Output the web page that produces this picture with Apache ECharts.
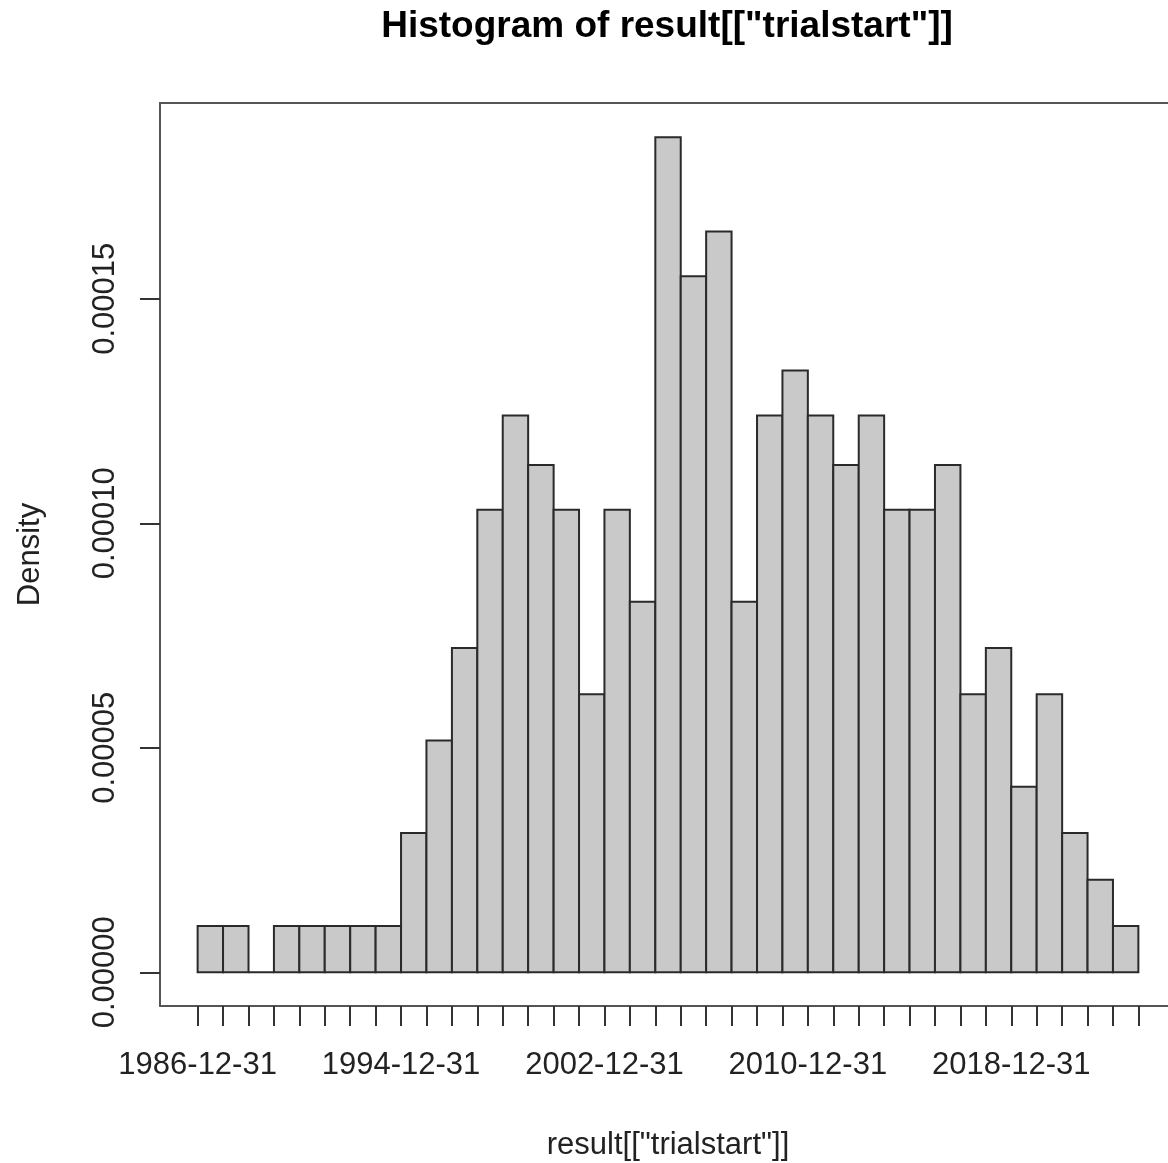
<!DOCTYPE html>
<html>
<head>
<meta charset="utf-8">
<script src="https://cdn.jsdelivr.net/npm/echarts@6/dist/echarts.min.js"></script>
<style>
html,body{margin:0;padding:0;background:#fff;}
#chart{width:1168px;height:1163px;}
</style>
</head>
<body>
<div id="chart"></div>
<script>
// ---- data ----
var binEdges = ['1986-12-31','1987-12-31','1988-12-31','1989-12-31','1990-12-31','1991-12-31','1992-12-31','1993-12-31',
  '1994-12-31','1995-12-31','1996-12-31','1997-12-31','1998-12-31','1999-12-31','2000-12-31','2001-12-31',
  '2002-12-31','2003-12-31','2004-12-31','2005-12-31','2006-12-31','2007-12-31','2008-12-31','2009-12-31',
  '2010-12-31','2011-12-31','2012-12-31','2013-12-31','2014-12-31','2015-12-31','2016-12-31','2017-12-31',
  '2018-12-31','2019-12-31','2020-12-31','2021-12-31','2022-12-31','2023-12-31'];
var densities = [0.0000103,0.0000103,0,0.0000103,0.0000103,0.0000103,0.0000103,0.0000103,
  0.0000310,0.0000516,0.0000722,0.000103,0.000124,0.000113,0.000103,0.0000619,
  0.000103,0.0000825,0.000186,0.000155,0.000165,0.0000825,0.000124,0.000134,
  0.000124,0.000113,0.000124,0.000103,0.000103,0.000113,0.0000619,0.0000722,
  0.0000413,0.0000619,0.0000310,0.0000206,0.0000103];
var xTickLabels = ['1986-12-31','1994-12-31','2002-12-31','2010-12-31','2018-12-31'];
var yTickValues = [0, 0.00005, 0.0001, 0.00015];
var yTickLabels = ['0.00000','0.00005','0.00010','0.00015'];
var titleText = 'Histogram of result[["trialstart"]]';
var xName = 'result[["trialstart"]]';
var yName = 'Density';

function toMs(s){ var p = s.split('-'); return Date.UTC(+p[0], +p[1]-1, +p[2]); }
var edgeMs = binEdges.map(toMs);
var xLabelMs = xTickLabels.map(toMs);
var barData = densities.map(function(d, i){ return [edgeMs[i], edgeMs[i+1], d]; });
var span = edgeMs[edgeMs.length-1] - edgeMs[0];
// R's 4% extension on both sides; the right side of the box falls past the picture edge
var xMin = edgeMs[0] - 0.04*span, xMax = edgeMs[edgeMs.length-1] + 0.04*span;

var FONT = '"Liberation Sans", Arial, Helvetica, sans-serif';
var BOX = '#555';
var chart = echarts.init(document.getElementById('chart'), null, {renderer:'canvas'});
chart.setOption({
  animation: false,
  backgroundColor: '#ffffff',
  grid: {left: 160, top: 103, width: 1016, height: 903, show: false, outerBoundsMode: 'none', containLabel: false},
  graphic: [{
    type: 'text', x: 667, y: 27,
    style: {text: titleText, font: 'bold 37px ' + FONT, fill: '#000', textAlign: 'center', textVerticalAlign: 'middle'}
  }],
  xAxis: [{
    type: 'value', min: xMin, max: xMax, position: 'bottom',
    splitLine: {show: false},
    axisLine: {show: true, onZero: false, lineStyle: {color: BOX, width: 2}},
    axisTick: {show: true, length: 20, inside: false, customValues: edgeMs, lineStyle: {color: '#333', width: 2}},
    axisLabel: {show: true, margin: 44, customValues: xLabelMs, color: '#222', fontSize: 31, fontFamily: FONT,
      formatter: function(v){
        for (var i = 0; i < xLabelMs.length; i++) if (Math.abs(xLabelMs[i]-v) < 3600000) return xTickLabels[i];
        return '';
      }},
    name: xName, nameLocation: 'middle', nameGap: 124,
    nameTextStyle: {fontSize: 31, fontFamily: FONT, color: '#222'}
  }, {
    type: 'value', min: xMin, max: xMax, position: 'top',
    splitLine: {show: false},
    axisLine: {show: true, onZero: false, lineStyle: {color: BOX, width: 2}},
    axisTick: {show: false}, axisLabel: {show: false}
  }],
  yAxis: {
    type: 'value', min: -0.0000075, max: 0.0001936,
    splitLine: {show: false},
    axisLine: {show: true, onZero: false, lineStyle: {color: BOX, width: 2}},
    axisTick: {show: true, length: 20, customValues: yTickValues, lineStyle: {color: '#333', width: 2}},
    axisLabel: {show: true, rotate: 90, margin: 39, customValues: yTickValues, color: '#222', fontSize: 31, fontFamily: FONT,
      formatter: function(v){
        for (var i = 0; i < yTickValues.length; i++) if (Math.abs(yTickValues[i]-v) < 1e-9) return yTickLabels[i];
        return '';
      }},
    name: yName, nameLocation: 'middle', nameGap: 114, nameRotate: 90,
    nameTextStyle: {fontSize: 31, fontFamily: FONT, color: '#222'}
  },
  series: [{
    type: 'custom',
    xAxisIndex: 0,
    data: barData,
    encode: {x: [0, 1], y: 2},
    renderItem: function(params, api){
      var p0 = api.coord([api.value(0), 0]);
      var p1 = api.coord([api.value(1), api.value(2)]);
      return {
        type: 'rect',
        shape: {x: p0[0], y: p1[1], width: p1[0]-p0[0], height: p0[1]-p1[1]},
        style: {fill: '#c9c9c9', stroke: '#2a2a2a', lineWidth: 2}
      };
    }
  }]
});
</script>
</body>
</html>
